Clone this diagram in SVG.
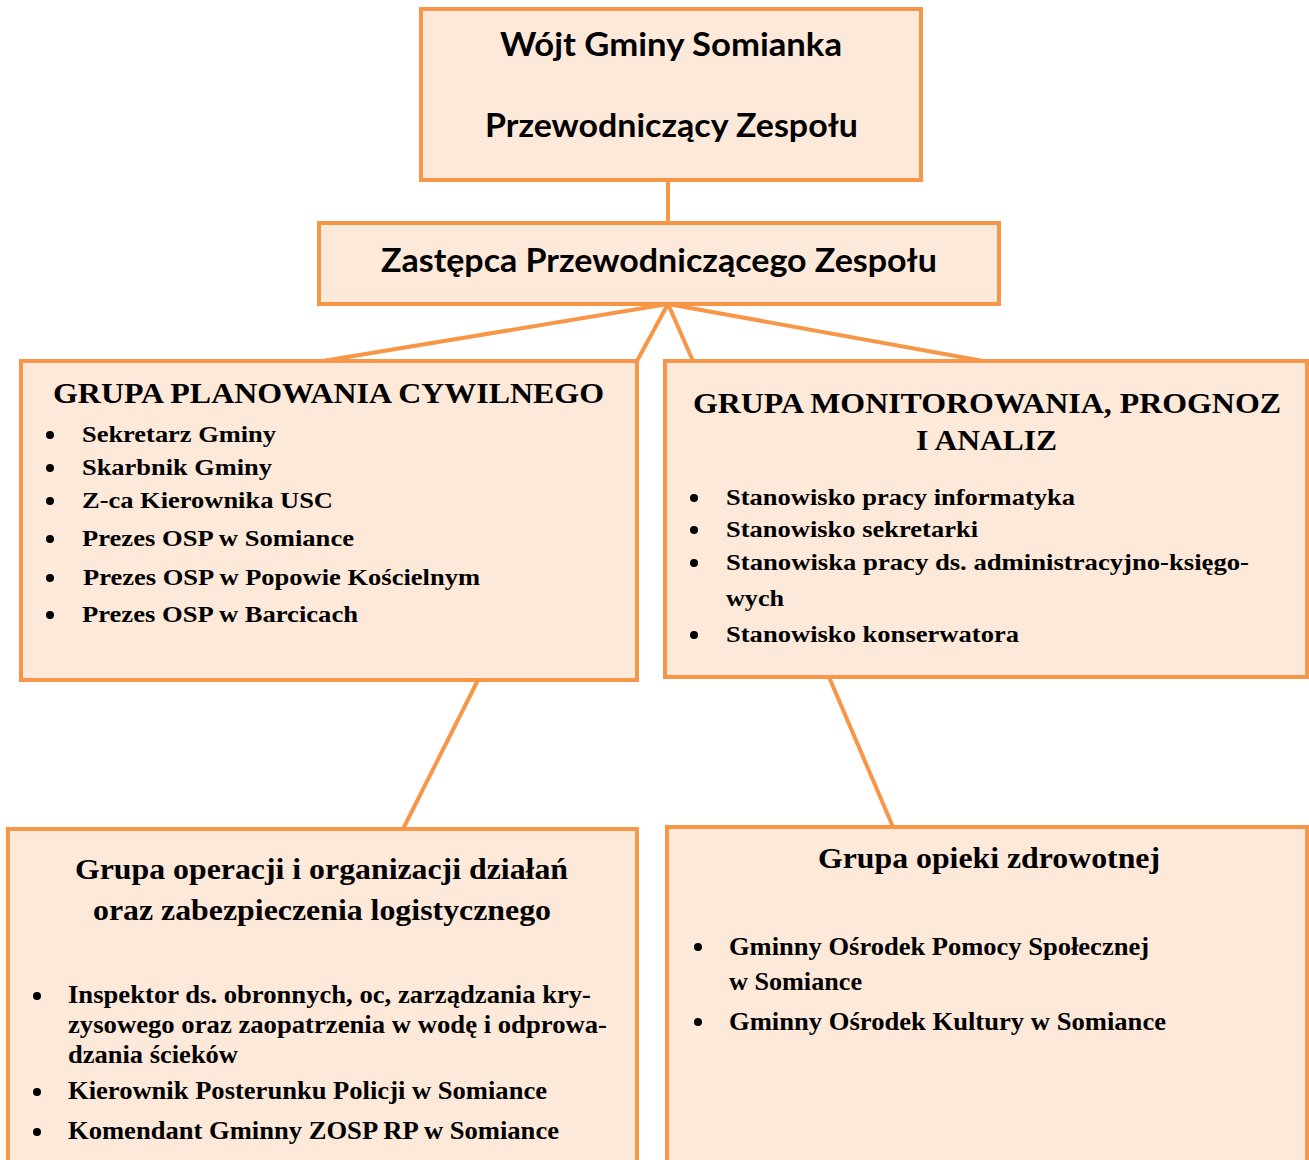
<svg xmlns="http://www.w3.org/2000/svg" width="1309" height="1160" viewBox="0 0 1309 1160">
<style>
.box{fill:#FDE9D9;stroke:#F79646;stroke-width:4}
.ln{stroke:#F79646;stroke-width:4;fill:none}
.hs{font-family:Lato,"Noto Sans",sans-serif;font-weight:bold;font-size:32px;fill:#000}
.tt{font-family:"Liberation Serif",serif;font-weight:bold;font-size:30px;fill:#000}
.it{font-family:"Liberation Serif",serif;font-weight:bold;font-size:24px;fill:#000}
.itc{font-family:"Liberation Serif",serif;font-weight:bold;font-size:25px;fill:#000}
.b{fill:#000}
</style>
<rect width="1309" height="1160" fill="#fff"/>
<g id="connectors">
<line class="ln" x1="668" y1="180" x2="668" y2="223"/>
<line class="ln" x1="668" y1="304" x2="323" y2="361"/>
<line class="ln" x1="668" y1="304" x2="637" y2="361"/>
<line class="ln" x1="668" y1="304" x2="693" y2="361"/>
<line class="ln" x1="668" y1="304" x2="983" y2="361"/>
<line class="ln" x1="478" y1="680" x2="403" y2="829"/>
<line class="ln" x1="829" y1="677" x2="893" y2="827"/>
</g>
<g id="wojt">
<rect class="box" x="421" y="9" width="500" height="171"/>
<text class="hs" x="500" y="56" textLength="342" lengthAdjust="spacingAndGlyphs">Wójt Gminy Somianka</text>
<text class="hs" x="485" y="137" textLength="373" lengthAdjust="spacingAndGlyphs">Przewodniczący Zespołu</text>
</g>
<g id="zastepca">
<rect class="box" x="319" y="223" width="680" height="81"/>
<text class="hs" x="381" y="272" textLength="556" lengthAdjust="spacingAndGlyphs">Zastępca Przewodniczącego Zespołu</text>
</g>
<g id="planowanie">
<rect class="box" x="21" y="361" width="616" height="319"/>
<text class="tt" x="53" y="403" textLength="551" lengthAdjust="spacingAndGlyphs">GRUPA PLANOWANIA CYWILNEGO</text>
<circle class="b" cx="50" cy="435" r="4"/><text class="it" x="82" y="442" textLength="194" lengthAdjust="spacingAndGlyphs">Sekretarz Gminy</text>
<circle class="b" cx="50" cy="468" r="4"/><text class="it" x="82" y="475" textLength="190" lengthAdjust="spacingAndGlyphs">Skarbnik Gminy</text>
<circle class="b" cx="50" cy="501" r="4"/><text class="it" x="82" y="508" textLength="251" lengthAdjust="spacingAndGlyphs">Z-ca Kierownika USC</text>
<circle class="b" cx="50" cy="539" r="4"/><text class="it" x="82" y="546" textLength="272" lengthAdjust="spacingAndGlyphs">Prezes OSP w Somiance</text>
<circle class="b" cx="50" cy="578" r="4"/><text class="it" x="83" y="585" textLength="397" lengthAdjust="spacingAndGlyphs">Prezes OSP w Popowie Kościelnym</text>
<circle class="b" cx="50" cy="615" r="4"/><text class="it" x="82" y="622" textLength="276" lengthAdjust="spacingAndGlyphs">Prezes OSP w Barcicach</text>
</g>
<g id="monitorowanie">
<rect class="box" x="665" y="361" width="642" height="316"/>
<text class="tt" x="693" y="413" textLength="588" lengthAdjust="spacingAndGlyphs">GRUPA MONITOROWANIA, PROGNOZ</text>
<text class="tt" x="916" y="450" textLength="141" lengthAdjust="spacingAndGlyphs">I ANALIZ</text>
<circle class="b" cx="694" cy="498" r="4"/><text class="it" x="726" y="505" textLength="349" lengthAdjust="spacingAndGlyphs">Stanowisko pracy informatyka</text>
<circle class="b" cx="694" cy="530" r="4"/><text class="it" x="726" y="537" textLength="252" lengthAdjust="spacingAndGlyphs">Stanowisko sekretarki</text>
<circle class="b" cx="694" cy="563" r="4"/><text class="it" x="726" y="570" textLength="523" lengthAdjust="spacingAndGlyphs">Stanowiska pracy ds. administracyjno-księgo-</text>
<text class="it" x="726" y="606" textLength="58" lengthAdjust="spacingAndGlyphs">wych</text>
<circle class="b" cx="694" cy="635" r="4"/><text class="it" x="726" y="642" textLength="293" lengthAdjust="spacingAndGlyphs">Stanowisko konserwatora</text>
</g>
<g id="operacje">
<rect class="box" x="8" y="829" width="629" height="340"/>
<text class="tt" x="75" y="879" textLength="493" lengthAdjust="spacingAndGlyphs">Grupa operacji i organizacji działań</text>
<text class="tt" x="93" y="920" textLength="458" lengthAdjust="spacingAndGlyphs">oraz zabezpieczenia logistycznego</text>
<circle class="b" cx="37" cy="996" r="4"/><text class="itc" x="68" y="1003" textLength="523" lengthAdjust="spacingAndGlyphs">Inspektor ds. obronnych, oc, zarządzania kry-</text>
<text class="itc" x="68" y="1033" textLength="539" lengthAdjust="spacingAndGlyphs">zysowego oraz zaopatrzenia w wodę i odprowa-</text>
<text class="itc" x="68" y="1063" textLength="170" lengthAdjust="spacingAndGlyphs">dzania ścieków</text>
<circle class="b" cx="37" cy="1092" r="4"/><text class="itc" x="68" y="1099" textLength="479" lengthAdjust="spacingAndGlyphs">Kierownik Posterunku Policji w Somiance</text>
<circle class="b" cx="37" cy="1132" r="4"/><text class="itc" x="68" y="1139" textLength="491" lengthAdjust="spacingAndGlyphs">Komendant Gminny ZOSP RP w Somiance</text>
</g>
<g id="zdrowie">
<rect class="box" x="667" y="827" width="640" height="340"/>
<text class="tt" x="818" y="868" textLength="342" lengthAdjust="spacingAndGlyphs">Grupa opieki zdrowotnej</text>
<circle class="b" cx="698" cy="947" r="4"/><text class="itc" x="729" y="955" textLength="420" lengthAdjust="spacingAndGlyphs">Gminny Ośrodek Pomocy Społecznej</text>
<text class="itc" x="729" y="990" textLength="133" lengthAdjust="spacingAndGlyphs">w Somiance</text>
<circle class="b" cx="698" cy="1022" r="4"/><text class="itc" x="729" y="1030" textLength="437" lengthAdjust="spacingAndGlyphs">Gminny Ośrodek Kultury w Somiance</text>
</g>
</svg>
